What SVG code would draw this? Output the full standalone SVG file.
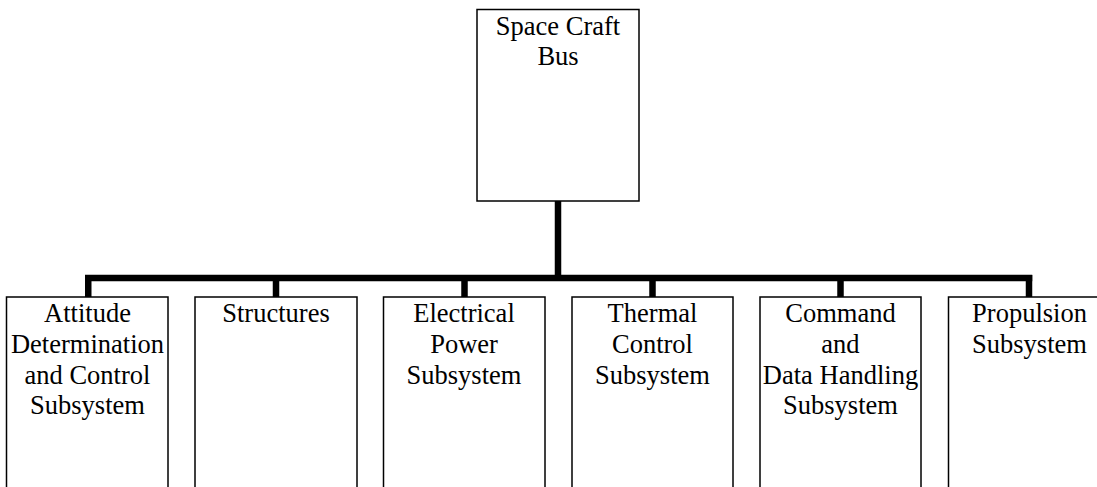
<svg xmlns="http://www.w3.org/2000/svg" width="1097" height="487" viewBox="0 0 1097 487">
<style>
.box{fill:#fff;stroke:#000;stroke-width:1.5}
.lbl{font-family:"Liberation Serif","Times New Roman",serif;font-size:26.5px;fill:#000;text-anchor:middle}
.con{stroke:#000;stroke-width:6.5;fill:none;stroke-linecap:butt}
</style>
<rect width="1097" height="487" fill="#fff"/>
<g id="connectors">
<line class="con" x1="558" y1="201" x2="558" y2="278"/>
<line class="con" x1="85" y1="278" x2="1032.25" y2="278"/>
<line class="con" x1="88.25" y1="275" x2="88.25" y2="297"/>
<line class="con" x1="276" y1="278" x2="276" y2="297"/>
<line class="con" x1="464.5" y1="278" x2="464.5" y2="297"/>
<line class="con" x1="652.5" y1="278" x2="652.5" y2="297"/>
<line class="con" x1="840.5" y1="278" x2="840.5" y2="297"/>
<line class="con" x1="1029" y1="275" x2="1029" y2="297"/>
</g>
<g id="bus">
<rect class="box" x="477" y="9.5" width="162" height="191.5"/>
<text class="lbl" x="558" y="35">Space Craft</text>
<text class="lbl" x="558" y="65">Bus</text>
</g>
<g id="adcs">
<rect class="box" x="6.5" y="297" width="161.5" height="220"/>
<text class="lbl" x="87.5" y="322">Attitude</text>
<text class="lbl" x="87.5" y="353">Determination</text>
<text class="lbl" x="87.5" y="384">and Control</text>
<text class="lbl" x="87.5" y="414">Subsystem</text>
</g>
<g id="structures">
<rect class="box" x="195" y="297" width="162" height="220"/>
<text class="lbl" x="276" y="322">Structures</text>
</g>
<g id="eps">
<rect class="box" x="383.5" y="297" width="161.5" height="220"/>
<text class="lbl" x="464" y="322">Electrical</text>
<text class="lbl" x="464" y="353">Power</text>
<text class="lbl" x="464" y="384">Subsystem</text>
</g>
<g id="thermal">
<rect class="box" x="572" y="297" width="161" height="220"/>
<text class="lbl" x="652.5" y="322">Thermal</text>
<text class="lbl" x="652.5" y="353">Control</text>
<text class="lbl" x="652.5" y="384">Subsystem</text>
</g>
<g id="cdh">
<rect class="box" x="760" y="297" width="161" height="220"/>
<text class="lbl" x="840.5" y="322">Command</text>
<text class="lbl" x="840.5" y="353">and</text>
<text class="lbl" x="840.5" y="384">Data Handling</text>
<text class="lbl" x="840.5" y="414">Subsystem</text>
</g>
<g id="propulsion">
<rect class="box" x="948.5" y="297" width="161.5" height="220"/>
<text class="lbl" x="1029.5" y="322">Propulsion</text>
<text class="lbl" x="1029.5" y="353">Subsystem</text>
</g>
</svg>
